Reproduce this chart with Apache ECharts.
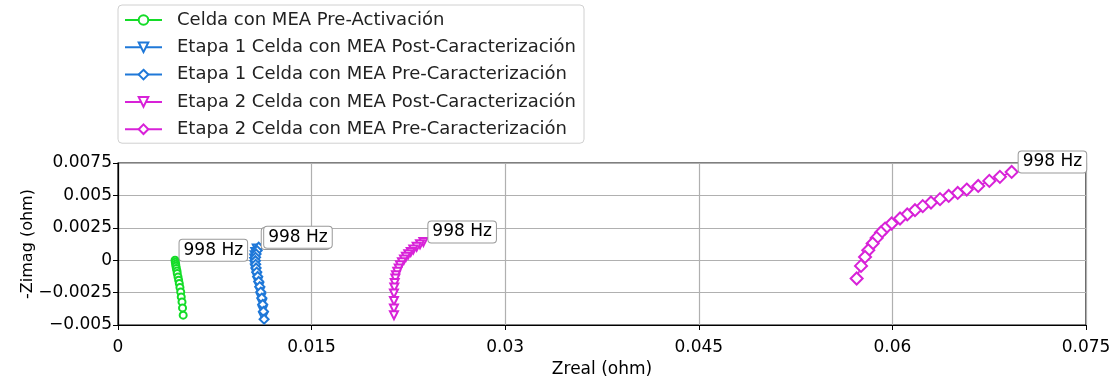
<!DOCTYPE html>
<html>
<head>
<meta charset="utf-8">
<script src="https://cdn.jsdelivr.net/npm/echarts@6/dist/echarts.min.js"></script>
<style>html,body{margin:0;padding:0;background:#fff}#c{width:1116px;height:380px}</style>
</head>
<body>
<div id="c"></div>
<script>
// ---- data ----
const seriesNames = [
  'Celda con MEA Pre-Activación',
  'Etapa 1 Celda con MEA Post-Caracterización',
  'Etapa 1 Celda con MEA Pre-Caracterización',
  'Etapa 2 Celda con MEA Post-Caracterización',
  'Etapa 2 Celda con MEA Pre-Caracterización'
];
const annotationText = '998 Hz';
const xTicks = [0, 0.015, 0.03, 0.045, 0.06, 0.075];
const yTicks = [-0.005, -0.0025, 0, 0.0025, 0.005, 0.0075];

const greenX = [0.00442,0.00444,0.00447,0.00449,0.00452,0.00457,0.00459,0.00465,0.00470,0.00475,0.00480,0.00486,0.00490,0.00496,0.00500,0.00505];
const greenY = [0.00000,-0.00015,-0.00031,-0.00046,-0.00064,-0.00083,-0.00103,-0.00129,-0.00154,-0.00180,-0.00211,-0.00245,-0.00283,-0.00322,-0.00368,-0.00424];

const blue1X = [0.01075,0.01064,0.01059,0.01056,0.01056,0.01059,0.01061,0.01067,0.01075,0.01083,0.01093,0.01100,0.01108,0.01116,0.01121,0.01126];
const blue1Y = [0.00090,0.00064,0.00039,0.00013,-0.00013,-0.00039,-0.00064,-0.00095,-0.00129,-0.00167,-0.00206,-0.00244,-0.00291,-0.00334,-0.00386,-0.00437];

const blue2X = [0.01090,0.01078,0.01070,0.01066,0.01065,0.01067,0.01070,0.01075,0.01082,0.01090,0.01098,0.01106,0.01114,0.01121,0.01127,0.01132];
const blue2Y = [0.00100,0.00074,0.00048,0.00022,-0.00004,-0.00032,-0.00060,-0.00092,-0.00126,-0.00164,-0.00204,-0.00246,-0.00292,-0.00342,-0.00396,-0.00455];

const mag1X = [0.02366,0.02340,0.02314,0.02288,0.02268,0.02249,0.02231,0.02216,0.02200,0.02185,0.02175,0.02164,0.02154,0.02149,0.02144,0.02141,0.02138,0.02138,0.02138,0.02138];
const mag1Y = [0.00141,0.00123,0.00103,0.00082,0.00064,0.00046,0.00026,0.00005,-0.00015,-0.00039,-0.00064,-0.00090,-0.00116,-0.00141,-0.00175,-0.00211,-0.00257,-0.00314,-0.00373,-0.00424];

const mag2X = [0.06924,0.06833,0.06751,0.06665,0.06576,0.06506,0.06436,0.06369,0.06299,0.06235,0.06175,0.06115,0.06059,0.05994,0.05943,0.05912,0.05878,0.05847,0.05813,0.05788,0.05757,0.05723];
const mag2Y = [0.00681,0.00643,0.00612,0.00573,0.00545,0.00519,0.00496,0.00471,0.00445,0.00417,0.00386,0.00353,0.00322,0.00283,0.00244,0.00214,0.00172,0.00129,0.00077,0.00025,-0.00044,-0.00141];

// ---- chart ----
const GREEN = '#14dc28', BLUE = '#1f78d8', MAG = '#d822d8';
const FONT = 'DejaVu Sans';

function build(xs, ys) {
  return xs.map((x, i) => {
    const item = { value: [x, ys[i]] };
    if (i === 0) {
      item.label = {
        show: true,
        formatter: annotationText,
        position: 'right',
        distance: 0,
        offset: [0, -10],
        align: 'left',
        verticalAlign: 'middle',
        color: '#000',
        fontFamily: FONT,
        fontSize: 17,
        backgroundColor: '#fff',
        borderColor: '#999',
        borderWidth: 1,
        borderRadius: 3,
        padding: [3, 4, 1, 4]
      };
    }
    return item;
  });
}

function mkSeries(name, xs, ys, color, symbol, size, rotate) {
  return {
    name: name,
    type: 'line',
    data: build(xs, ys),
    symbol: symbol,
    symbolSize: size,
    symbolRotate: rotate || 0,
    showAllSymbol: true,
    color: color,
    lineStyle: { color: color, width: 1.5 },
    itemStyle: { color: color, borderColor: color, borderWidth: 1.5 },
    label: { show: false },
    emphasis: { disabled: true },
    animation: false,
    z: 3
  };
}

function fmt(v) {
  const s = String(parseFloat(Number(v).toPrecision(6)));
  return s.replace('-', '\u2212');
}

const chart = echarts.init(document.getElementById('c'), null, { renderer: 'canvas' });
chart.setOption({
  animation: false,
  textStyle: { fontFamily: FONT },
  grid: { left: 118, right: 30, top: 163, bottom: 55, show: true, borderColor: '#000', borderWidth: 1.2, backgroundColor: 'transparent' },
  legend: {
    orient: 'vertical',
    left: 118,
    top: 5,
    padding: [6, 8, 5, 6],
    itemWidth: 37,
    itemHeight: 12,
    itemGap: 9.3,
    borderColor: '#d0d0d0',
    borderWidth: 1,
    borderRadius: 4,
    backgroundColor: '#fff',
    textStyle: { fontFamily: FONT, fontSize: 18, color: '#222', padding: [0, 0, 0, 10] },
    data: seriesNames
  },
  xAxis: {
    type: 'value',
    min: xTicks[0],
    max: xTicks[xTicks.length - 1],
    interval: xTicks[1] - xTicks[0],
    name: 'Zreal (ohm)',
    nameLocation: 'middle',
    nameGap: 36,
    nameMoveOverlap: false,
    nameTextStyle: { fontFamily: FONT, fontSize: 17, color: '#000' },
    axisLine: { onZero: false, lineStyle: { color: '#000', width: 1.2 } },
    axisTick: { show: true, inside: false, length: 5, lineStyle: { color: '#000' } },
    axisLabel: { fontFamily: FONT, fontSize: 17, color: '#000', margin: 14, formatter: fmt },
    splitLine: { show: true, lineStyle: { color: '#b0b0b0', width: 1.2 } }
  },
  yAxis: {
    type: 'value',
    min: yTicks[0],
    max: yTicks[yTicks.length - 1],
    interval: yTicks[1] - yTicks[0],
    name: '-Zimag (ohm)',
    nameLocation: 'middle',
    nameRotate: 90,
    nameGap: 82,
    nameMoveOverlap: false,
    nameTextStyle: { fontFamily: FONT, fontSize: 16, color: '#000' },
    axisLine: { show: true, onZero: false, lineStyle: { color: '#000', width: 1.2 } },
    axisTick: { show: true, inside: false, length: 5, lineStyle: { color: '#000' } },
    axisLabel: { fontFamily: FONT, fontSize: 17, color: '#000', margin: 6, formatter: fmt },
    splitLine: { show: true, lineStyle: { color: '#b0b0b0', width: 1.2 } }
  },
  series: [
    mkSeries(seriesNames[0], greenX, greenY, GREEN, 'emptyCircle', 7),
    mkSeries(seriesNames[1], blue1X, blue1Y, BLUE, 'emptyTriangle', 8, 180),
    mkSeries(seriesNames[2], blue2X, blue2Y, BLUE, 'emptyDiamond', 9),
    mkSeries(seriesNames[3], mag1X, mag1Y, MAG, 'emptyTriangle', 8, 180),
    mkSeries(seriesNames[4], mag2X, mag2Y, MAG, 'emptyDiamond', 12)
  ]
});
</script>
</body>
</html>
